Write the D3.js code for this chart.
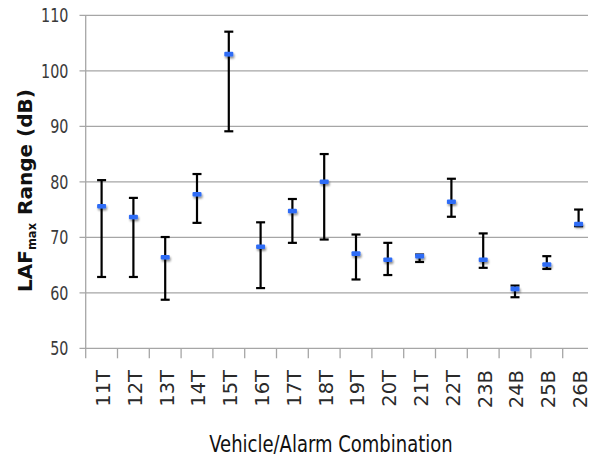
<!DOCTYPE html>
<html>
<head>
<meta charset="utf-8">
<script src="https://cdn.jsdelivr.net/npm/d3@7"></script>
<style>
  body { margin: 0; background: #fff; }
  svg { display: block; }
</style>
</head>
<body>
<svg id="chart"></svg>
<script>
var width = 591;
var height = 459;

// data
var categories = ['11T','12T','13T','14T','15T','16T','17T','18T','19T','20T','21T','22T','23B','24B','25B','26B'];
var midValues  = [75.6, 73.65, 66.4, 77.75, 103.0, 68.3, 74.75, 80.0, 67.05, 65.95, 66.6, 76.4, 65.95, 60.7, 65.1, 72.4];
var highValues = [80.3, 77.1, 70.05, 81.4, 107.05, 72.7, 76.9, 85.0, 70.5, 69.0, 66.9, 80.55, 70.7, 61.3, 66.6, 75.0];
var lowValues  = [62.85, 62.85, 58.75, 72.6, 89.1, 60.85, 69.0, 69.6, 62.4, 63.2, 65.55, 73.7, 64.5, 59.2, 64.3, 72.0];
var yTicks = [50, 60, 70, 80, 90, 100, 110];

var rows = categories.map((c, i) => ({cat: c, mid: midValues[i], hi: highValues[i], lo: lowValues[i]}));

var svg = d3.select('#chart')
    .attr('width', width)
    .attr('height', height);

var x = d3.scaleBand()
    .domain(categories)
    .range([85.7, 594.5]);

var y = d3.scaleLinear()
    .domain([50, 110])
    .range([348.3, 15.3]);

var plotRight = 588;
var narrowFont = '"Liberation Sans Narrow", "DejaVu Sans Condensed", sans-serif';

var defs = svg.append('defs');
var shadow = defs.append('filter').attr('id', 'shadow')
    .attr('x', '-50%').attr('y', '-100%').attr('width', '200%').attr('height', '300%');
shadow.append('feGaussianBlur').attr('in', 'SourceAlpha').attr('stdDeviation', 1.2);
shadow.append('feOffset').attr('dx', 1).attr('dy', 1.5).attr('result', 'b');
shadow.append('feComponentTransfer').append('feFuncA').attr('type', 'linear').attr('slope', 0.45);
var merge = shadow.append('feMerge');
merge.append('feMergeNode');
merge.append('feMergeNode').attr('in', 'SourceGraphic');

// gridlines
svg.append('g')
    .selectAll('line')
    .data(yTicks)
    .enter()
    .append('line')
        .attr('x1', 79.5)
        .attr('x2', plotRight)
        .attr('y1', d => y(d))
        .attr('y2', d => y(d))
        .attr('stroke', '#a6a6a6')
        .attr('stroke-width', 1.3);

// y axis line
svg.append('line')
    .attr('x1', x.range()[0]).attr('x2', x.range()[0])
    .attr('y1', y(110)).attr('y2', y(50))
    .attr('stroke', '#a6a6a6')
    .attr('stroke-width', 1.3);

// x tick marks at band edges
svg.append('g')
    .selectAll('line')
    .data(categories)
    .enter()
    .append('line')
        .attr('x1', d => x(d))
        .attr('x2', d => x(d))
        .attr('y1', y(50))
        .attr('y2', y(50) + 10)
        .attr('stroke', '#a6a6a6')
        .attr('stroke-width', 1.3);

// y tick labels (squeezed a bit, the original font is narrow)
svg.append('g')
    .selectAll('text')
    .data(yTicks)
    .enter()
    .append('text')
        .attr('transform', d => 'translate(68.5,' + y(d) + ') scale(0.84,1)')
        .attr('dy', '0.36em')
        .attr('text-anchor', 'end')
        .attr('fill', '#3a3a3a')
        .style('font-family', narrowFont)
        .style('font-size', '19px')
        .text(d => d);

// x tick labels, rotated
svg.append('g')
    .selectAll('text')
    .data(categories)
    .enter()
    .append('text')
        .attr('transform', d => 'translate(' + (x(d) + x.bandwidth() / 2 + 8.4) + ',370) rotate(-90)')
        .attr('text-anchor', 'end')
        .attr('fill', '#2a2a2a')
        .style('font-family', '"DejaVu Sans", sans-serif')
        .style('font-size', '19.5px')
        .text(d => d);

// error bars
var bars = svg.append('g')
    .selectAll('g')
    .data(rows)
    .enter()
    .append('g')
        .attr('stroke', '#000')
        .attr('stroke-width', 2.2);

var cx = d => x(d.cat) + x.bandwidth() / 2;
bars.append('line')
    .attr('x1', cx).attr('x2', cx)
    .attr('y1', d => y(d.hi)).attr('y2', d => y(d.lo));
bars.append('line')
    .attr('x1', d => cx(d) - 4.5).attr('x2', d => cx(d) + 4.5)
    .attr('y1', d => y(d.hi)).attr('y2', d => y(d.hi));
bars.append('line')
    .attr('x1', d => cx(d) - 4.5).attr('x2', d => cx(d) + 4.5)
    .attr('y1', d => y(d.lo)).attr('y2', d => y(d.lo));

// markers
svg.append('g')
    .attr('filter', 'url(#shadow)')
    .selectAll('rect')
    .data(rows)
    .enter()
    .append('rect')
        .attr('x', d => cx(d) - 4.5)
        .attr('y', d => y(d.mid) - 2.3)
        .attr('width', 9)
        .attr('height', 4.6)
        .attr('rx', 1)
        .attr('fill', '#2f6cf6');

// axis titles
svg.append('text')
    .attr('transform', 'translate(331,452) scale(0.87,1)')
    .attr('text-anchor', 'middle')
    .attr('fill', '#111')
    .style('font-family', narrowFont)
    .style('font-size', '23px')
    .text('Vehicle/Alarm Combination');

var yTitle = svg.append('text')
    .attr('transform', 'translate(32.3,292) rotate(-90)')
    .attr('fill', '#111')
    .style('font-family', '"DejaVu Sans", sans-serif')
    .style('font-weight', 'bold')
    .style('font-size', '20px');
yTitle.append('tspan').text('LAF');
yTitle.append('tspan').attr('dy', 3.5).style('font-size', '11.5px').text('max');
yTitle.append('tspan').attr('dy', -3.5).attr('dx', 8).text('Range (dB)');
</script>
</body>
</html>
